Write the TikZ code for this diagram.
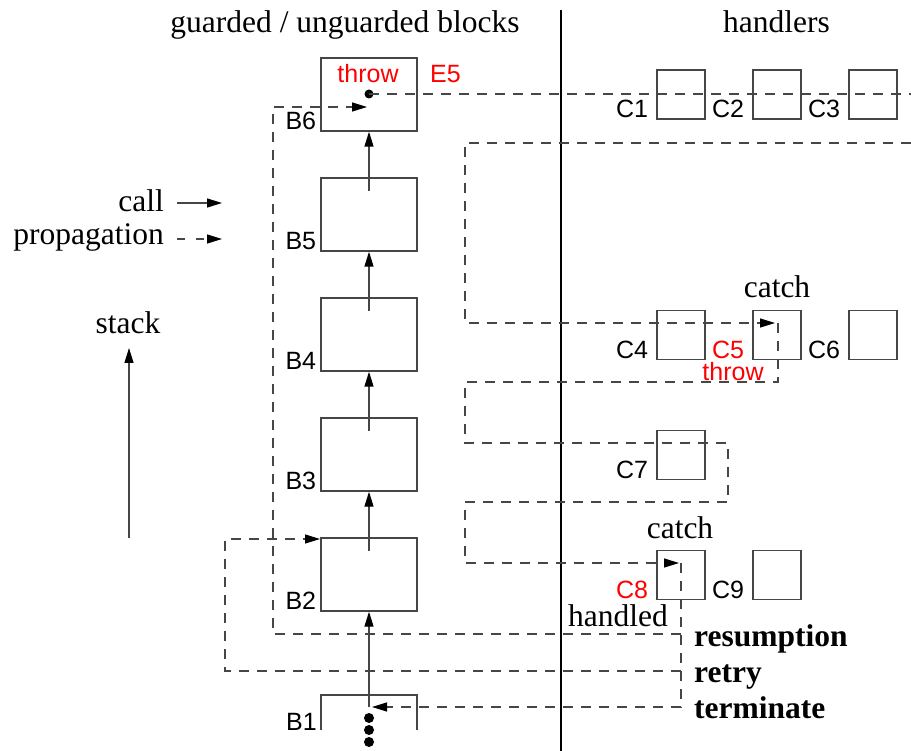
\documentclass[tikz,border=0pt]{standalone}
\usepackage{fontspec}
\setmainfont{Liberation Serif}
\setsansfont{Liberation Sans}
\usetikzlibrary{arrows.meta}
\newcommand\myrm{\rmfamily\fontsize{31.5}{36}\selectfont}
\newcommand\mysf{\sffamily\fontsize{25}{29}\selectfont}
\definecolor{redtxt}{RGB}{255,0,0}
\definecolor{linegray}{RGB}{70,70,70}
\tikzset{
  blk/.style={draw=linegray, line width=1.3pt, minimum width=96pt, minimum height=73pt, inner sep=0pt},
  hbox/.style={draw=linegray, line width=1.3pt, minimum width=48pt, minimum height=49pt, inner sep=0pt},
  lab/.style={font=\mysf, inner sep=0pt},
  txt/.style={font=\myrm, inner sep=0pt},
  tip/.style={-{Triangle[length=15pt,width=9pt,color=black]}},
  prop/.style={draw=linegray, line width=1.3pt, dash pattern=on 10pt off 8pt},
  callln/.style={draw=linegray, line width=1.3pt},
}
\begin{document}
\begin{tikzpicture}[x=1pt,y=-1pt]
\useasboundingbox (0,0) rectangle (911,751);
% titles and divider
\node[txt, anchor=base] (t1) at (345,33) {guarded / unguarded blocks};
\node[txt, anchor=base] (t2) at (776.5,33) {handlers};
\coordinate (dtop) at (561,10);
\coordinate (dbot) at (561,751);
\draw[line width=2.5pt] (dtop) -- (dbot);
% blocks
\node[blk] (B6) at (369,94.5) {};
\node[blk] (B5) at (369,214.5) {};
\node[blk] (B4) at (369,334.5) {};
\node[blk] (B3) at (369,454.5) {};
\node[blk] (B2) at (369,574.5) {};
\coordinate (b1a) at (321,730);
\coordinate (b1b) at (321,695);
\coordinate (b1c) at (417,695);
\coordinate (b1d) at (417,730);
\draw[callln] (b1a) -- (b1b) -- (b1c) -- (b1d);
\foreach \n in {B6,B5,B4,B3,B2}{
  \node[lab, anchor=base east] (l\n) at ([xshift=-4pt,yshift=2pt]\n.south west) {\n};
}
\node[lab, anchor=base east] (lB1) at ([xshift=-4pt]b1a) {B1};
% dots in B1
\node[circle, fill, inner sep=0pt, minimum size=10pt] (d1) at (369,718) {};
\node[circle, fill, inner sep=0pt, minimum size=10pt] (d2) at (369,730) {};
\node[circle, fill, inner sep=0pt, minimum size=10pt] (d3) at (369,742) {};
% throw dot in B6
\node[circle, fill, inner sep=0pt, minimum size=9pt] (E) at (369,94) {};
\node[lab, anchor=base, text=redtxt] (throw1) at (368,83) {throw};
\node[lab, anchor=base west, text=redtxt] (E5) at (430,83) {E5};
% call arrows
\coordinate (c5) at (369,191);
\coordinate (c4) at (369,311);
\coordinate (c3) at (369,431);
\coordinate (c2) at (369,551);
\coordinate (c1) at (369,707);
\draw[callln, tip] (c5) -- (B6.south);
\draw[callln, tip] (c4) -- (B5.south);
\draw[callln, tip] (c3) -- (B4.south);
\draw[callln, tip] (c2) -- (B3.south);
\draw[callln, tip] (c1) -- (B2.south);
% handler boxes
\node[hbox] (C1) at (681,94.5) {};
\node[hbox] (C2) at (777,94.5) {};
\node[hbox] (C3) at (873,94.5) {};
\node[hbox] (C4) at (681,335) {};
\node[hbox] (C5) at (777,335) {};
\node[hbox] (C6) at (873,335) {};
\node[hbox] (C7) at (681,455) {};
\node[hbox] (C8) at (681,575) {};
\node[hbox] (C9) at (777,575) {};
\foreach \n in {C1,C2,C3,C4,C6,C7,C9}{
  \node[lab, anchor=base east] (l\n) at ([xshift=-8pt,yshift=2pt]\n.south west) {\n};
}
\node[lab, anchor=base east, text=redtxt] (lC5) at ([xshift=-8pt,yshift=2pt]C5.south west) {C5};
\node[lab, anchor=base east, text=redtxt] (lC8) at ([xshift=-8pt,yshift=2pt]C8.south west) {C8};
\node[lab, anchor=base, text=redtxt] (throw2) at (733,381) {throw};
\node[txt, anchor=base] (catch1) at (777,298) {catch};
\node[txt, anchor=base] (catch2) at (680,538) {catch};
\node[txt, anchor=base] (handled) at (618,626) {handled};
\node[txt, anchor=base west, font=\myrm\bfseries] (res) at (694,646) {resumption};
\node[txt, anchor=base west, font=\myrm\bfseries] (ret) at (694,682) {retry};
\node[txt, anchor=base west, font=\myrm\bfseries] (ter) at (694,718) {terminate};
% propagation paths
\coordinate (p1e) at (911,94);
\draw[prop] (E.center) -- (p1e);
\coordinate (p2a) at (911,143);
\coordinate (p2b) at (465,143);
\coordinate (p2c) at (465,323);
\coordinate (p2d) at (775,323);
\draw[prop, tip] (p2a) -- (p2b) -- (p2c) -- (p2d);
\coordinate (p3a) at (778,323);
\coordinate (p3b) at (778,382);
\coordinate (p3c) at (465,382);
\coordinate (p3d) at (465,443);
\coordinate (p3e) at (728,443);
\coordinate (p3f) at (728,502);
\coordinate (p3g) at (465,502);
\coordinate (p3h) at (465,563);
\coordinate (p3i) at (679,563);
\draw[prop, tip] (p3a) -- (p3b) -- (p3c) -- (p3d) -- (p3e) -- (p3f) -- (p3g) -- (p3h) -- (p3i);
\coordinate (h0) at (681,563);
\coordinate (h1) at (681,707);
\coordinate (h2) at (372,707);
\draw[prop, tip] (h0) -- (h1) -- (h2);
\coordinate (r0) at (681,634);
\coordinate (r1) at (273,634);
\coordinate (r2) at (273,107);
\coordinate (r3) at (367,107);
\draw[prop, tip] (r0) -- (r1) -- (r2) -- (r3);
\coordinate (q0) at (681,671);
\coordinate (q1) at (225,671);
\coordinate (q2) at (225,539);
\coordinate (q3) at (320,539);
\draw[prop, tip] (q0) -- (q1) -- (q2) -- (q3);
% legend
\node[txt, anchor=base east] (call) at (164,212) {call};
\node[txt, anchor=base east] (propg) at (164,245) {propagation};
\coordinate (la) at (177,203);
\coordinate (lb) at (222,203);
\coordinate (lc) at (177,239);
\coordinate (ld) at (222,239);
\draw[callln, tip] (la) -- (lb);
\draw[prop, tip, dash pattern=on 8pt off 11pt] (lc) -- (ld);
% stack
\node[txt, anchor=base] (stack) at (128,334) {stack};
\coordinate (sa) at (129,538);
\coordinate (sb) at (129,348);
\draw[callln, tip] (sa) -- (sb);
\end{tikzpicture}
\end{document}
